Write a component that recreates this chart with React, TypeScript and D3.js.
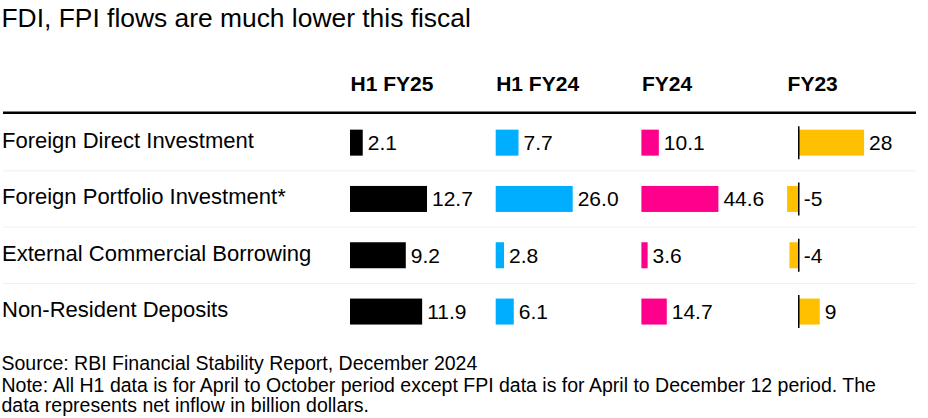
import React from 'react'
import * as d3 from 'd3'

// Net inflows, billion dollars (RBI Financial Stability Report, Dec 2024)
const rows = [
  'Foreign Direct Investment',
  'Foreign Portfolio Investment*',
  'External Commercial Borrowing',
  'Non-Resident Deposits'
]
const columns = ['H1 FY25', 'H1 FY24', 'FY24', 'FY23']
const h1fy25 = [2.1, 12.7, 9.2, 11.9]
const h1fy24 = [7.7, 26.0, 2.8, 6.1]
const fy24 = [10.1, 44.6, 3.6, 14.7]
const fy23 = [28, -5, -4, 9]
const decimals = [1, 1, 1, 0]
const colors = ['#000000', '#00aeff', '#ff008c', '#ffc000']

const title = 'FDI, FPI flows are much lower this fiscal'
const source = 'Source: RBI Financial Stability Report, December 2024'
const notes = [
  'Note: All H1 data is for April to October period except FPI data is for April to December 12 period. The',
  'data represents net inflow in billion dollars.'
]

const W = 928
const H = 418
const FONT = '"Liberation Sans", Arial, Helvetica, sans-serif'
const BAR_W = 77
const BAR_H = 26

const App: React.FC = () => {
  const series = [h1fy25, h1fy24, fy24, fy23]

  const yRow = d3.scaleBand<string>()
    .domain(rows)
    .range([114.5, 339.7])

  const xCol = d3.scaleBand<string>()
    .domain(columns)
    .range([350, 350 + 4 * 145.7])

  const colScales = series.map((vals, i) => {
    const left = xCol(columns[i]) as number
    const lo = Math.min(0, d3.min(vals) as number)
    const hi = Math.max(0, d3.max(vals) as number)
    return d3.scaleLinear().domain([lo, hi]).range([left, left + BAR_W])
  })

  // hyphen instead of d3's unicode minus, as in the original
  const fmt = (v: number, d: number) => d3.format(`.${d}f`)(v).replace('\u2212', '-')

  return (
    <div style={{ position: 'absolute', left: 0, top: 0 }}>
      <svg width={W} height={H} style={{ display: 'block', fontFamily: FONT }}>
        <rect width={W} height={H} fill="#fff" />
        <text x={1.5} y={26.5} fontSize={26.4} fill="#000">{title}</text>

        {/* column headers */}
        {columns.map(c => (
          <text key={c} x={(xCol(c) as number) + 0.5} y={91} fontSize={21} fontWeight="bold" fill="#000">
            {c}
          </text>
        ))}

        {/* row separators */}
        {rows.slice(1).map(r => (
          <line key={r} x1={3} x2={916} y1={yRow(r) as number} y2={yRow(r) as number}
            stroke="#efefef" strokeWidth={1} />
        ))}
        <line x1={3} x2={916} y1={112.8} y2={112.8} stroke="#000" strokeWidth={2.6} />

        {rows.map((r, ri) => {
          const cy = (yRow(r) as number) + yRow.bandwidth() / 2
          return (
            <g key={r}>
              <text x={2} y={cy + 5.3} fontSize={22} fill="#000">{r}</text>
              {series.map((vals, ci) => {
                const x = colScales[ci]
                const v = vals[ri]
                const x0 = x(0)
                const xv = x(v)
                const hasNeg = x.domain()[0] < 0
                const labelX = Math.max(x0, xv) + 5
                return (
                  <g key={ci}>
                    <rect x={Math.min(x0, xv)} y={cy - BAR_H / 2} width={Math.abs(xv - x0)} height={BAR_H}
                      fill={colors[ci]} />
                    {hasNeg && (
                      <line x1={x0} x2={x0} y1={cy - 16.5} y2={cy + 16.5} stroke="#000" strokeWidth={1.5} />
                    )}
                    <text x={labelX} y={cy + 7.5} fontSize={21} fill="#000">
                      {fmt(v, decimals[ci])}
                    </text>
                  </g>
                )
              })}
            </g>
          )
        })}

        <text x={1.5} y={370} fontSize={19.5} fill="#000">{source}</text>
        {notes.map((n, i) => (
          <text key={i} x={1.5} y={391.5 + i * 20.5} fontSize={19.5} fill="#000">{n}</text>
        ))}
      </svg>
    </div>
  )
}

export default App
